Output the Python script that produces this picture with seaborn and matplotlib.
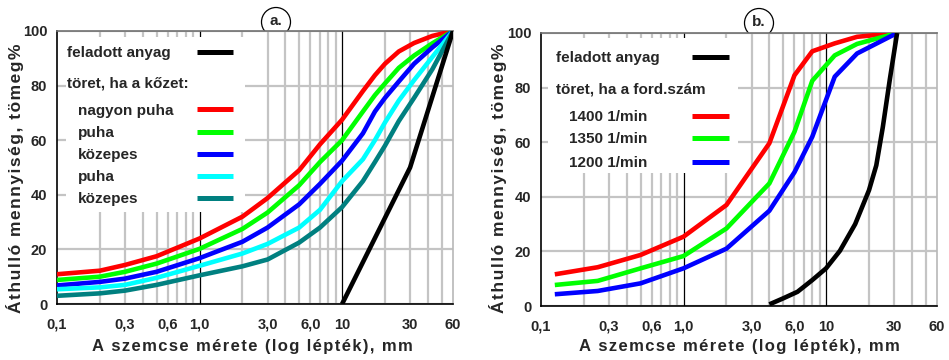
import matplotlib
matplotlib.use("Agg")
import matplotlib.pyplot as plt
import seaborn as sns
import pandas as pd
from matplotlib.patches import Rectangle, Ellipse
from matplotlib.lines import Line2D
from matplotlib.ticker import FixedLocator, NullFormatter

# ---------------- data: panel a ----------------
size_a = [0.1, 0.2, 0.3, 0.5, 1.0, 2.0, 3.0, 5.0, 7.0, 10, 14, 17, 20, 25, 32, 43, 60]
nagyon_puha_a = [10.9, 12.2, 14.3, 17.5, 24.0, 32.0, 38.8, 49.0, 58.5, 67.5, 78.0, 83.8, 88.0, 92.5, 95.6, 98.2, 100]
puha_a = [8.8, 10.0, 11.8, 14.8, 20.2, 27.5, 33.5, 43.5, 52.0, 60.0, 70.5, 76.5, 80.8, 86.5, 91.0, 95.5, 100]
kozepes_a = [6.8, 8.1, 9.3, 11.8, 16.8, 22.8, 28.0, 36.5, 44.0, 52.5, 62.5, 70.5, 75.5, 81.5, 88.0, 94.0, 100]
puha2_a = [5.4, 6.1, 7.0, 9.6, 14.0, 18.5, 22.0, 28.0, 34.5, 45.0, 53.0, 60.0, 66.5, 74.5, 82.0, 90.5, 100]
kozepes2_a = [3.0, 3.9, 4.9, 7.0, 10.5, 13.8, 16.3, 22.5, 28.0, 35.5, 45.0, 52.0, 58.0, 67.0, 75.5, 86.0, 100]
feed_size_a = [10, 30, 60]
feed_a = [0, 50, 100]

# ---------------- data: panel b ----------------
size_b = [0.125, 0.25, 0.5, 1.0, 2.0, 4.0, 6.0, 8.0, 11.5, 16.5, 31.5]
rpm1400 = [11.6, 14.2, 18.7, 25.4, 37.0, 59.6, 84.5, 93.3, 96.2, 98.6, 100]
rpm1350 = [7.7, 9.2, 13.8, 18.3, 28.4, 44.9, 63.8, 82.5, 91.8, 96.0, 100]
rpm1200 = [4.3, 5.5, 8.3, 13.8, 21.0, 34.9, 49.0, 62.0, 84.0, 92.5, 100]
feed_size_b = [4.0, 5.0, 6.3, 8.0, 10, 12.5, 16, 20, 22.5, 25, 28, 31.5]
feed_b = [0.6, 2.8, 5.2, 9.5, 13.8, 20.2, 30.0, 42.4, 51.5, 65.5, 83.0, 100]

# ---------------- ticks / labels ----------------
xtick_vals = [0.1, 0.3, 0.6, 1.0, 3.0, 6.0, 10, 30, 60]
xtick_labels = ["0,1", "0,3", "0,6", "1,0", "3,0", "6,0", "10", "30", "60"]
ytick_vals = [0, 20, 40, 60, 80, 100]
xgrid_vals = [0.2, 0.3, 0.4, 0.5, 0.6, 0.7, 0.8, 0.9,
              2, 3, 4, 5, 6, 7, 8, 9, 20, 30, 40, 50]
xlabel = "A szemcse mérete (log lépték), mm"
ylabel = "Áthulló mennyiség, tömeg%"

legend_a_title = "feladott anyag"
legend_a_sub = "töret, ha a kőzet:"
legend_a_items = ["nagyon puha", "puha", "közepes", "puha", "közepes"]
colors_a = ["#ff0000", "#00ff00", "#0000ff", "#00ffff", "#008080"]

legend_b_title = "feladott anyag"
legend_b_sub = "töret, ha a ford.szám"
legend_b_items = ["1400 1/min", "1350 1/min", "1200 1/min"]
colors_b = ["#ff0000", "#00ff00", "#0000ff"]

sns.set_style("white")
plt.rcParams["font.family"] = ["Liberation Sans", "DejaVu Sans"]
plt.rcParams["font.weight"] = "bold"

W, H = 949, 360
fig = plt.figure(figsize=(W / 100, H / 100), dpi=100)

boxes = {"a": (57, 31, 453, 304), "b": (541, 33, 937, 306)}


def spaced(s):
    return "\u200a".join(s)


def add_axes(box):
    l, t, r, b = box
    return fig.add_axes([l / W, 1 - b / H, (r - l) / W, (b - t) / H])


def ax_xy(box, px, py):
    l, t, r, b = box
    return (px - l) / (r - l), (b - py) / (b - t)


def style_axes(ax):
    ax.set_xscale("log")
    ax.set_xlim(0.1, 60)
    ax.set_ylim(0, 100)
    ax.xaxis.remove_overlapping_locs = False
    ax.xaxis.set_major_locator(FixedLocator(xtick_vals))
    ax.set_xticklabels(xtick_labels)
    ax.xaxis.set_minor_locator(FixedLocator(xgrid_vals))
    ax.xaxis.set_minor_formatter(NullFormatter())
    ax.set_yticks(ytick_vals)
    ax.set_axisbelow(True)
    ax.grid(False)
    ax.grid(True, which="minor", axis="x", color="#c4c4c4", lw=1.6)
    ax.grid(True, which="major", axis="y", color="#c4c4c4", lw=1.6)
    for v in (1.0, 10.0):
        ax.axvline(v, color="black", lw=0.9, zorder=1)
    ax.tick_params(axis="both", which="both", length=0, labelsize=10.5)
    ax.tick_params(axis="x", pad=10)
    ax.tick_params(axis="y", pad=7)
    for lab in ax.get_xticklabels() + ax.get_yticklabels():
        lab.set_fontweight("bold")
    ax.spines["left"].set_color("black")
    ax.spines["bottom"].set_color("black")
    ax.spines["top"].set_color("#707070")
    ax.spines["right"].set_color("#b8b8b8")
    for s in ax.spines.values():
        s.set_linewidth(1.2)


def curve(ax, x, y, color):
    df = pd.DataFrame({"x": x, "y": y})
    sns.lineplot(data=df, x="x", y="y", ax=ax, color=color, lw=3.3,
                 sort=False, estimator=None, zorder=3,
                 solid_joinstyle="round", solid_capstyle="butt")
    ax.set_xlabel("")
    ax.set_ylabel("")


def legend_block(ax, box, rect, title, title_xy, line_x, sub, sub_xy,
                 items, item_x, item_ys, colors, fs):
    l, t, r, b = rect
    x0, y0 = ax_xy(box, l, b)
    x1, y1 = ax_xy(box, r, t)
    ax.add_patch(Rectangle((x0, y0), x1 - x0, y1 - y0, transform=ax.transAxes,
                           facecolor="white", edgecolor="none", zorder=1.5))
    tx, ty = ax_xy(box, *title_xy)
    ax.text(tx, ty, title, transform=ax.transAxes, va="center", ha="left",
            fontsize=fs, fontweight="bold", zorder=4)
    lx0, ly = ax_xy(box, line_x[0], title_xy[1] - 1.5)
    lx1, _ = ax_xy(box, line_x[1], title_xy[1])
    ax.add_line(Line2D([lx0, lx1], [ly, ly], transform=ax.transAxes,
                       color="black", lw=3.6, zorder=4, solid_capstyle="butt"))
    sx, sy = ax_xy(box, *sub_xy)
    ax.text(sx, sy, sub, transform=ax.transAxes, va="center", ha="left",
            fontsize=fs, fontweight="bold", zorder=4)
    for name, yy, c in zip(items, item_ys, colors):
        ix, iy = ax_xy(box, item_x, yy)
        ax.text(ix, iy, name, transform=ax.transAxes, va="center", ha="left",
                fontsize=fs, fontweight="bold", zorder=4)
        _, liy = ax_xy(box, 0, yy - 1.5)
        ax.add_line(Line2D([lx0, lx1], [liy, liy], transform=ax.transAxes,
                           color=c, lw=3.6, zorder=4, solid_capstyle="butt"))


def badge(cx, cy, label):
    r = 14.5
    fig.add_artist(Ellipse((cx / W, 1 - cy / H), 2 * r / W, 2 * r / H,
                           transform=fig.transFigure, facecolor="white",
                           edgecolor="black", lw=0.9, zorder=-1))
    fig.text(cx / W, 1 - (cy - 1) / H, label, ha="center", va="center",
             fontsize=11, fontweight="bold", zorder=-0.5)


# ---------------- panel a ----------------
axa = add_axes(boxes["a"])
style_axes(axa)
for ys, c in zip([nagyon_puha_a, puha_a, kozepes_a, puha2_a, kozepes2_a], colors_a):
    curve(axa, size_a, ys, c)
curve(axa, feed_size_a, feed_a, "black")
legend_block(axa, boxes["a"], (66, 37, 245, 212), legend_a_title, (67, 53.5),
             (197, 233), legend_a_sub, (67, 83.5), legend_a_items, 78,
             [110.5, 133, 155.5, 177, 199], colors_a, 11)

# ---------------- panel b ----------------
axb = add_axes(boxes["b"])
style_axes(axb)
for ys, c in zip([rpm1400, rpm1350, rpm1200], colors_b):
    curve(axb, size_b, ys, c)
curve(axb, feed_size_b, feed_b, "black")
legend_block(axb, boxes["b"], (548, 38, 738, 173), legend_b_title, (556, 58),
             (692, 729), legend_b_sub, (556, 89), legend_b_items, 569,
             [117, 139.5, 163], colors_b, 11)

# axis titles
for cx, yl_x in ((252, 15), (739, 498)):
    fig.text(cx / W, 1 - 347 / H, spaced(xlabel), ha="center", va="center",
             fontsize=12, fontweight="bold")
    fig.text(yl_x / W, 1 - 178 / H, spaced(ylabel), ha="center", va="center",
             rotation=90, fontsize=12.5, fontweight="bold")

badge(276, 22, "a.")
badge(759, 23, "b.")

fig.savefig("out.png", dpi=100)
